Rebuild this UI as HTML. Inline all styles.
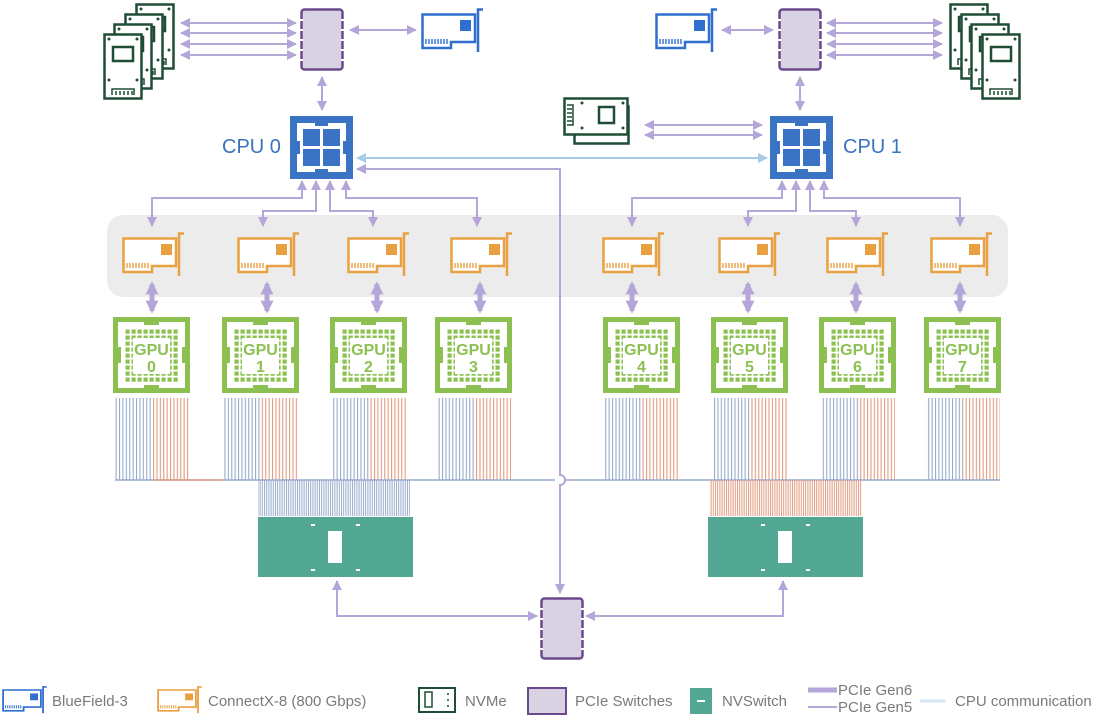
<!DOCTYPE html>
<html><head><meta charset="utf-8"><style>
html,body{margin:0;padding:0;background:#fff}
svg{display:block}
text{font-family:"Liberation Sans",sans-serif}
</style></head><body>
<svg width="1100" height="720" viewBox="0 0 1100 720" xmlns="http://www.w3.org/2000/svg">
<defs>
<marker id="a" viewBox="0 0 10 10" refX="9" refY="5" markerWidth="5" markerHeight="5" orient="auto-start-reverse"><path d="M0,0L10,5L0,10z" fill="#b4a6d8"/></marker>
<marker id="ab" viewBox="0 0 10 10" refX="9" refY="5" markerWidth="5" markerHeight="5" orient="auto-start-reverse"><path d="M0,0L10,5L0,10z" fill="#a9cbea"/></marker>
<marker id="at" viewBox="0 0 10 10" refX="8" refY="5" markerWidth="2.6" markerHeight="2.6" orient="auto-start-reverse"><path d="M0,0L10,5L0,10z" fill="#b4a6d8"/></marker>
<pattern id="dots" width="6" height="6" patternUnits="userSpaceOnUse"><rect x="0.5" y="0.5" width="4.2" height="4.2" fill="#8cc152"/></pattern>
<pattern id="bl" width="3.4" height="10" patternUnits="userSpaceOnUse"><rect x="0" y="0" width="1.1" height="10" fill="#97abcc"/></pattern>
<pattern id="or" width="3.4" height="10" patternUnits="userSpaceOnUse"><rect x="0" y="0" width="1.1" height="10" fill="#e39c80"/></pattern>
<pattern id="bl2" width="2.2" height="10" patternUnits="userSpaceOnUse"><rect x="0" y="0" width="1" height="10" fill="#97abcc"/></pattern>
<pattern id="or2" width="2.2" height="10" patternUnits="userSpaceOnUse"><rect x="0" y="0" width="1" height="10" fill="#e39c80"/></pattern>
<g id="card">
<path d="M1.5,6.5H54V34H30V40H1.5Z" fill="#fff" stroke-width="2.5"/>
<path d="M57,44V1.5H62" fill="none" stroke-width="2.5"/>
<path d="M5,31v5M8,31v5M11,31v5M14,31v5M17,31v5M20,31v5M23,31v5M26,31v5" stroke-width="1.4"/>
</g>
<g id="cx" stroke="#e8a040"><use href="#card"/><rect x="39" y="12" width="11" height="11" fill="#e8a040" stroke="none"/></g>
<g id="bf" stroke="#2f6fcf"><use href="#card"/><rect x="39" y="12" width="11" height="11" fill="#2f6fcf" stroke="none"/></g>
<g id="nv">
<rect x="1.5" y="1.5" width="37" height="64" fill="#fff" stroke="#1f4d35" stroke-width="2.5"/>
<rect x="10" y="14" width="20" height="14" fill="none" stroke="#1f4d35" stroke-width="2.5"/>
<circle cx="6" cy="6" r="1.5" fill="#1f4d35"/><circle cx="34" cy="6" r="1.5" fill="#1f4d35"/>
<circle cx="6" cy="47" r="1.5" fill="#1f4d35"/><circle cx="34" cy="47" r="1.5" fill="#1f4d35"/>
<path d="M9,62V56H31V62M13,58v4M17,58v4M21,58v4M25,58v4M29,58v4" fill="none" stroke="#1f4d35" stroke-width="1.5"/>
</g>
<g id="sw"><rect x="1.5" y="1.5" width="41" height="60" rx="3" fill="#d9d2e3" stroke="#6b4a8c" stroke-width="2.5"/>
<path d="M0,12h3M0,22h3M0,32h3M0,42h3M0,52h3M41,12h3M41,22h3M41,32h3M41,42h3M41,52h3" stroke="#fff" stroke-width="2"/></g>
<g id="cpu"><rect width="63" height="63" fill="#3a72c4"/><rect x="7" y="7" width="49" height="49" fill="#fff"/>
<rect x="25" y="7" width="13" height="3" fill="#3a72c4"/><rect x="25" y="53" width="13" height="3" fill="#3a72c4"/><rect x="7" y="25" width="3" height="13" fill="#3a72c4"/><rect x="53" y="25" width="3" height="13" fill="#3a72c4"/>
<rect x="13" y="13" width="17" height="17" fill="#3a72c4"/><rect x="33" y="13" width="17" height="17" fill="#3a72c4"/><rect x="13" y="33" width="17" height="17" fill="#3a72c4"/><rect x="33" y="33" width="17" height="17" fill="#3a72c4"/></g>
<g id="gpu"><rect width="77" height="76" fill="#8cc152"/><rect x="5" y="5" width="67" height="66" fill="#fff"/>
<rect x="31" y="5" width="15" height="3" fill="#8cc152"/><rect x="31" y="68" width="15" height="3" fill="#8cc152"/><rect x="5" y="30" width="3" height="16" fill="#8cc152"/><rect x="69" y="30" width="3" height="16" fill="#8cc152"/>
<rect x="11" y="11" width="54" height="54" fill="url(#dots)"/><rect x="20" y="21" width="37" height="36" fill="#fff"/></g>
</defs>

<rect x="107" y="215" width="901" height="82" rx="16" fill="#ececec"/>

<use href="#nv" x="135" y="3"/><use href="#nv" x="124" y="13"/><use href="#nv" x="113" y="23"/><use href="#nv" x="103" y="33"/>
<use href="#nv" x="949" y="3"/><use href="#nv" x="960" y="13"/><use href="#nv" x="970" y="23"/><use href="#nv" x="981" y="33"/>

<g stroke="#b4a6d8" stroke-width="2" fill="none" marker-start="url(#a)" marker-end="url(#a)">
<path d="M181,23H296"/><path d="M181,33H296"/><path d="M181,44H296"/><path d="M181,55H296"/>
<path d="M827,23H942"/><path d="M827,33H942"/><path d="M827,44H942"/><path d="M827,55H942"/>
<path d="M350,30H416"/><path d="M722,30H773"/>
<path d="M322,77V110"/><path d="M800,77V110"/>
<path d="M645,125H762"/><path d="M645,135H762"/>
<path d="M302,181V198H152V226"/><path d="M316,181V211H263V226"/><path d="M330,181V211H373V226"/><path d="M346,181V198H477V226"/>
<path d="M782,181V198H632V226"/><path d="M796,181V211H748V226"/><path d="M810,181V211H856V226"/><path d="M824,181V198H960V226"/>
<path d="M537,616H337V581"/><path d="M586,616H783V581"/>
</g>
<path d="M357,158H767" stroke="#a9cbea" stroke-width="2" fill="none" marker-start="url(#ab)" marker-end="url(#ab)"/>
<path d="M357,169H560V475A5,5 0 0 1 560,485V593" stroke="#b4a6d8" stroke-width="2" fill="none" marker-start="url(#a)" marker-end="url(#a)"/>

<use href="#sw" x="300" y="8"/><use href="#sw" x="778" y="8"/><use href="#sw" x="540" y="597"/>
<use href="#bf" x="421" y="8"/><use href="#bf" x="655" y="8"/>
<use href="#cpu" x="290" y="116"/><use href="#cpu" x="770" y="116"/>
<text x="222" y="153" font-size="20" fill="#3a72c4">CPU 0</text>
<text x="843" y="153" font-size="20" fill="#3a72c4">CPU 1</text>

<g transform="translate(573,105)"><rect x="1.5" y="1.5" width="54" height="37" fill="#fff" stroke="#1f4d35" stroke-width="2.5"/></g>
<g transform="translate(563,97)"><rect x="1.5" y="1.5" width="63" height="36" fill="#fff" stroke="#1f4d35" stroke-width="2.5"/>
<rect x="36" y="10" width="15" height="16" fill="none" stroke="#1f4d35" stroke-width="2.5"/>
<circle cx="19" cy="6" r="1.5" fill="#1f4d35"/><circle cx="60" cy="6" r="1.5" fill="#1f4d35"/><circle cx="19" cy="31" r="1.5" fill="#1f4d35"/><circle cx="60" cy="31" r="1.5" fill="#1f4d35"/>
<path d="M4,8H10V28H4M4,12h5M4,16h5M4,20h5M4,24h5" fill="none" stroke="#1f4d35" stroke-width="1.5"/></g>

<use href="#cx" x="122" y="232"/><use href="#cx" x="237" y="232"/><use href="#cx" x="347" y="232"/><use href="#cx" x="450" y="232"/>
<use href="#cx" x="602" y="232"/><use href="#cx" x="718" y="232"/><use href="#cx" x="826" y="232"/><use href="#cx" x="930" y="232"/>

<g stroke="#b4a6d8" stroke-width="5" marker-start="url(#at)" marker-end="url(#at)">
<path d="M152,284V311"/><path d="M267,284V311"/><path d="M377,284V311"/><path d="M480,284V311"/>
<path d="M632,284V311"/><path d="M748,284V311"/><path d="M856,284V311"/><path d="M960,284V311"/>
</g>

<g font-size="16" font-weight="bold" fill="#8cc152" text-anchor="middle">
<use href="#gpu" x="113" y="317"/><text x="151.5" y="355">GPU</text><text x="151.5" y="372">0</text>
<use href="#gpu" x="222" y="317"/><text x="260.5" y="355">GPU</text><text x="260.5" y="372">1</text>
<use href="#gpu" x="330" y="317"/><text x="368.5" y="355">GPU</text><text x="368.5" y="372">2</text>
<use href="#gpu" x="435" y="317"/><text x="473.5" y="355">GPU</text><text x="473.5" y="372">3</text>
<use href="#gpu" x="603" y="317"/><text x="641.5" y="355">GPU</text><text x="641.5" y="372">4</text>
<use href="#gpu" x="711" y="317"/><text x="749.5" y="355">GPU</text><text x="749.5" y="372">5</text>
<use href="#gpu" x="819" y="317"/><text x="857.5" y="355">GPU</text><text x="857.5" y="372">6</text>
<use href="#gpu" x="924" y="317"/><text x="962.5" y="355">GPU</text><text x="962.5" y="372">7</text>
</g>

<g>
<rect x="115" y="398" width="37" height="82" fill="url(#bl)"/><rect x="152" y="398" width="37" height="82" fill="url(#or)"/>
<rect x="224" y="398" width="37" height="82" fill="url(#bl)"/><rect x="261" y="398" width="37" height="82" fill="url(#or)"/>
<rect x="332" y="398" width="37" height="82" fill="url(#bl)"/><rect x="369" y="398" width="37" height="82" fill="url(#or)"/>
<rect x="437" y="398" width="37" height="82" fill="url(#bl)"/><rect x="474" y="398" width="37" height="82" fill="url(#or)"/>
<rect x="605" y="398" width="37" height="82" fill="url(#bl)"/><rect x="642" y="398" width="37" height="82" fill="url(#or)"/>
<rect x="713" y="398" width="37" height="82" fill="url(#bl)"/><rect x="750" y="398" width="37" height="82" fill="url(#or)"/>
<rect x="821" y="398" width="37" height="82" fill="url(#bl)"/><rect x="858" y="398" width="37" height="82" fill="url(#or)"/>
<rect x="926" y="398" width="37" height="82" fill="url(#bl)"/><rect x="963" y="398" width="37" height="82" fill="url(#or)"/>
<path d="M115,480H555M565,480H1000" stroke="#97abcc" stroke-width="1.5"/>
<path d="M155,480H222" stroke="#e39c80" stroke-width="1.5"/>
<rect x="258" y="480" width="152" height="36" fill="url(#bl2)"/>
<rect x="710" y="480" width="152" height="36" fill="url(#or2)"/>
</g>

<g><rect x="258" y="517" width="155" height="60" fill="#52a893"/><rect x="328" y="531" width="14" height="32" fill="#fff"/>
<path d="M311,525h4M356,525h4M311,570h4M356,570h4" stroke="#fff" stroke-width="2"/></g>
<g><rect x="708" y="517" width="155" height="60" fill="#52a893"/><rect x="778" y="531" width="14" height="32" fill="#fff"/>
<path d="M761,525h4M806,525h4M761,570h4M806,570h4" stroke="#fff" stroke-width="2"/></g>

<g font-size="15" fill="#7a7a7a">
<g transform="translate(2,686) scale(0.72,0.62)"><use href="#bf"/></g>
<text x="52" y="706">BlueField-3</text>
<g transform="translate(157,686) scale(0.72,0.62)"><use href="#cx"/></g>
<text x="208" y="706">ConnectX-8 (800 Gbps)</text>
<rect x="419" y="688" width="36" height="24" fill="#fff" stroke="#1f4d35" stroke-width="2"/><rect x="425" y="692" width="7" height="15" fill="none" stroke="#1f4d35" stroke-width="1.5"/><path d="M448,693v2M448,699v2M448,705v2" stroke="#1f4d35" stroke-width="1.5"/>
<text x="465" y="706">NVMe</text>
<rect x="528" y="688" width="38" height="26" fill="#d9d2e3" stroke="#6b4a8c" stroke-width="2"/>
<text x="575" y="706">PCIe Switches</text>
<rect x="690" y="688" width="22" height="26" fill="#52a893"/><rect x="697" y="700" width="8" height="2" fill="#fff"/>
<text x="722" y="706">NVSwitch</text>
<path d="M808,690H837" stroke="#b4a6d8" stroke-width="5"/><path d="M808,707H837" stroke="#b4a6d8" stroke-width="2"/>
<text x="838" y="695">PCIe Gen6</text><text x="838" y="712">PCIe Gen5</text>
<path d="M920,701H945" stroke="#d3e6f5" stroke-width="3"/>
<text x="955" y="706">CPU communication</text>
</g>
</svg>
</body></html>
